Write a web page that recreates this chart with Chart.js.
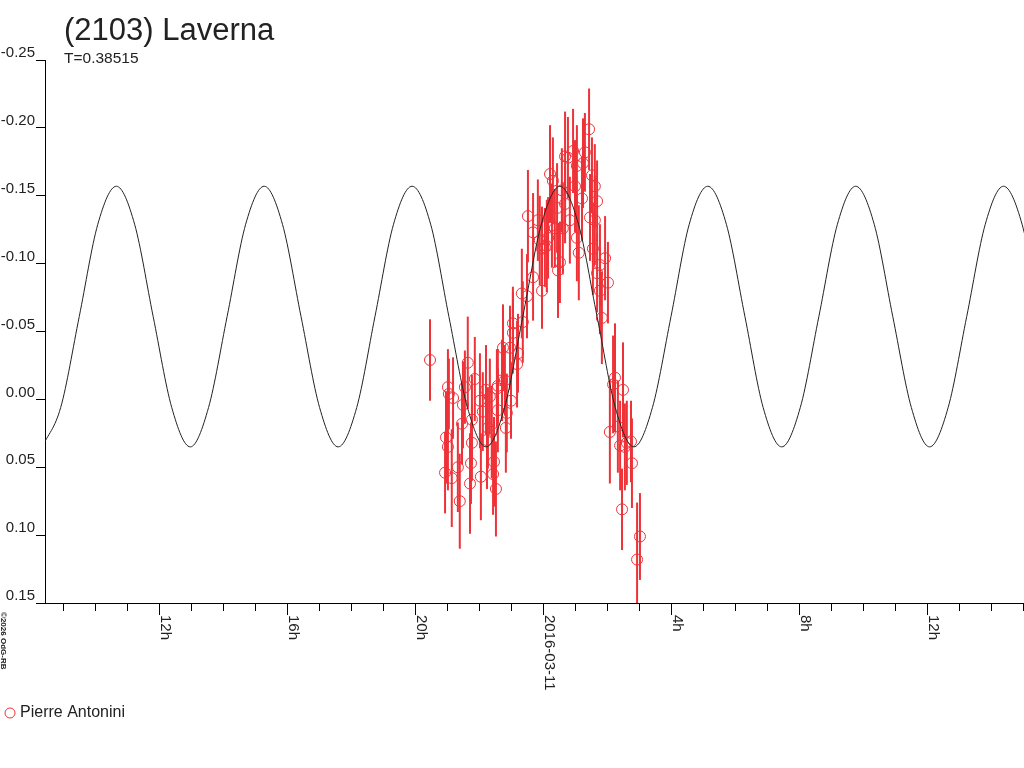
<!DOCTYPE html>
<html lang="en">
<head>
<meta charset="UTF-8">
<title>(2103) Laverna</title>
<script src="https://cdn.jsdelivr.net/npm/chart.js"></script>
<style>
  body { margin: 0; background: #fff; }
  canvas { display: block; }
</style>
</head>
<body>
<canvas id="lightcurve" width="1024" height="768"></canvas>
<script>
// hours relative to 2016-03-11 00:00 UT, magnitudes relative to mean
var obsHours = [-3.56, -3.09, -3.06, -3.00, -3.00, -2.97, -2.88, -2.84, -2.69, -2.63,
  -2.56, -2.53, -2.47, -2.38, -2.31, -2.28, -2.25, -2.25, -2.16, -2.00,
  -1.97, -1.91, -1.81, -1.78, -1.75, -1.69, -1.63, -1.59, -1.56, -1.50,
  -1.47, -1.44, -1.44, -1.31, -1.28, -1.22, -1.19, -1.16, -1.06, -1.03,
  -0.97, -0.97, -0.84, -0.81, -0.69, -0.66, -0.53, -0.50, -0.34, -0.34,
  -0.19, -0.13, -0.06, -0.06, 0.03, 0.09, 0.13, 0.19, 0.25, 0.28,
  0.34, 0.41, 0.44, 0.50, 0.56, 0.59, 0.66, 0.66, 0.75, 0.81,
  0.91, 0.97, 1.03, 1.03, 1.09, 1.19, 1.22, 1.28, 1.41, 1.44,
  1.50, 1.53, 1.59, 1.59, 1.66, 1.66, 1.75, 1.75, 1.81, 1.91,
  2.00, 2.06, 2.16, 2.22, 2.31, 2.38, 2.44, 2.47, 2.53, 2.59,
  2.72, 2.75, 2.91, 3.00];
var obsMag = [-0.029, 0.054, 0.028, 0.035, -0.009, -0.004, 0.058, -0.001, 0.050, 0.075,
  0.018, 0.004, -0.009, -0.027, 0.062, 0.047, 0.015, 0.032, -0.015, 0.001,
  0.057, 0.009, -0.007, 0.030, 0.021, -0.002, 0.024, 0.055, 0.046, 0.066,
  -0.008, 0.008, -0.010, -0.014, -0.038, -0.014, 0.021, 0.010, -0.038, 0.001,
  -0.049, -0.056, -0.026, -0.034, -0.078, -0.057, -0.076, -0.135, -0.123, -0.090,
  -0.132, -0.117, -0.080, -0.111, -0.112, -0.113, -0.119, -0.166, -0.128, -0.161,
  -0.126, -0.141, -0.095, -0.101, -0.154, -0.126, -0.144, -0.179, -0.178, -0.132,
  -0.183, -0.157, -0.172, -0.119, -0.108, -0.148, -0.174, -0.182, -0.199, -0.134,
  -0.165, -0.111, -0.157, -0.132, -0.146, -0.093, -0.080, -0.099, -0.060, -0.104,
  -0.086, 0.024, -0.011, -0.016, 0.020, 0.034, 0.081, -0.007, 0.035, 0.032,
  0.031, 0.047, 0.118, 0.101];
var obsErr = [0.030, 0.030, 0.034, 0.032, 0.028, 0.026, 0.036, 0.030, 0.033, 0.035,
  0.030, 0.032, 0.027, 0.034, 0.037, 0.030, 0.033, 0.028, 0.031, 0.035,
  0.032, 0.029, 0.033, 0.036, 0.030, 0.028, 0.034, 0.030, 0.033, 0.035,
  0.029, 0.031, 0.027, 0.030, 0.032, 0.026, 0.033, 0.029, 0.031, 0.028,
  0.030, 0.027, 0.032, 0.029, 0.033, 0.030, 0.031, 0.034, 0.029, 0.032,
  0.030, 0.033, 0.028, 0.031, 0.029, 0.034, 0.030, 0.036, 0.031, 0.032,
  0.029, 0.033, 0.035, 0.030, 0.031, 0.034, 0.029, 0.033, 0.030, 0.032,
  0.031, 0.034, 0.030, 0.032, 0.035, 0.031, 0.033, 0.029, 0.030, 0.032,
  0.028, 0.034, 0.031, 0.033, 0.030, 0.029, 0.032, 0.030, 0.034, 0.031,
  0.030, 0.038, 0.036, 0.040, 0.034, 0.033, 0.030, 0.035, 0.032, 0.031,
  0.030, 0.033, 0.042, 0.032];

// fitted lightcurve (maxima, minima and points between)
var fitHours = [-15.68, -15.10, -14.52, -13.94, -13.36, -12.79, -12.21, -11.63, -11.05, -10.48,
  -9.90, -9.32, -8.74, -8.17, -7.59, -7.01, -6.43, -5.85, -5.28, -4.70,
  -4.12, -3.54, -2.97, -2.39, -1.81, -1.23, -0.66, -0.08, 0.50, 1.08,
  1.66, 2.23, 2.81, 3.39, 3.97, 4.54, 5.12, 5.70, 6.28, 6.85,
  7.43, 8.01, 8.59, 9.17, 9.74, 10.32, 10.90, 11.48, 12.05, 12.63,
  13.21, 13.79, 14.36, 14.94, 15.52];
var fitMag = [0.035, 0.006, -0.061, -0.129, -0.157, -0.129, -0.061, 0.006, 0.035, 0.006,
  -0.061, -0.129, -0.157, -0.129, -0.061, 0.006, 0.035, 0.006, -0.061, -0.129,
  -0.157, -0.129, -0.061, 0.006, 0.035, 0.006, -0.061, -0.129, -0.157, -0.129,
  -0.061, 0.006, 0.035, 0.006, -0.061, -0.129, -0.157, -0.129, -0.061, 0.006,
  0.035, 0.006, -0.061, -0.129, -0.157, -0.129, -0.061, 0.006, 0.035, 0.006,
  -0.061, -0.129, -0.157, -0.129, -0.061];

var majorHours = [-12, -8, -4, 0, 4, 8, 12];
var majorLabels = ['12h', '16h', '20h', '2016-03-11', '4h', '8h', '12h'];

var RED = 'rgb(238,50,56)';
var TEXT = '#222';
var FONT = '"Liberation Sans", Arial, sans-serif';

Chart.defaults.font.family = FONT;

// vertical error bars, drawn under the circles
var errorBars = {
    id: 'errorBars',
    beforeDatasetsDraw: function (chart) {
        var ctx = chart.ctx, xs = chart.scales.x, ys = chart.scales.y, a = chart.chartArea;
        ctx.save();
        ctx.beginPath();
        ctx.rect(a.left, a.top, a.right - a.left, a.bottom - a.top);
        ctx.clip();
        ctx.strokeStyle = RED;
        ctx.lineWidth = 2;
        obsHours.forEach(function (h, i) {
            var px = xs.getPixelForValue(h);
            ctx.beginPath();
            ctx.moveTo(px, ys.getPixelForValue(obsMag[i] - obsErr[i]));
            ctx.lineTo(px, ys.getPixelForValue(obsMag[i] + obsErr[i]));
            ctx.stroke();
        });
        ctx.restore();
    }
};

// hour ticks hanging below the axis, rotated labels, titles and legend
var decorations = {
    id: 'decorations',
    afterDraw: function (chart) {
        var ctx = chart.ctx, xs = chart.scales.x, a = chart.chartArea;
        ctx.save();
        ctx.strokeStyle = '#000';
        ctx.lineWidth = 1;
        ctx.beginPath();
        ctx.moveTo(36, a.bottom + 0.5);
        ctx.lineTo(a.left, a.bottom + 0.5);
        ctx.stroke();
        xs.ticks.forEach(function (t) {
            var px = Math.round(xs.getPixelForValue(t.value)) - 0.5;
            var len = majorHours.indexOf(t.value) >= 0 ? 12 : 8;
            ctx.beginPath();
            ctx.moveTo(px, a.bottom);
            ctx.lineTo(px, a.bottom + len);
            ctx.stroke();
        });

        ctx.fillStyle = TEXT;
        ctx.font = '15px ' + FONT;
        ctx.textAlign = 'left';
        ctx.textBaseline = 'alphabetic';
        majorHours.forEach(function (h, i) {
            ctx.save();
            ctx.translate(xs.getPixelForValue(h) + 1, a.bottom + 12);
            ctx.rotate(Math.PI / 2);
            ctx.fillText(majorLabels[i], 0, 0);
            ctx.restore();
        });

        ctx.save();
        ctx.font = 'bold 8px ' + FONT;
        ctx.translate(1, 612);
        ctx.rotate(Math.PI / 2);
        ctx.fillText('\u00a92026 OdG-RB', 0, 0);
        ctx.restore();

        ctx.font = '31px ' + FONT;
        ctx.fillText('(2103) Laverna', 64, 40);
        ctx.font = '15.5px ' + FONT;
        ctx.fillText('T=0.38515', 64, 63);

        ctx.strokeStyle = RED;
        ctx.beginPath();
        ctx.arc(10, 713, 5, 0, Math.PI * 2);
        ctx.stroke();
        ctx.font = '16px ' + FONT;
        ctx.textBaseline = 'middle';
        ctx.fillText('Pierre Antonini', 20, 713);
        ctx.restore();
    }
};

var ctx = document.getElementById('lightcurve').getContext('2d');
var chart = new Chart(ctx, {
    type: 'scatter',
    data: {
        datasets: [{
            label: 'Fit',
            data: fitHours.map(function (h, i) { return { x: h, y: fitMag[i] }; }),
            showLine: true,
            borderColor: '#222',
            borderWidth: 1,
            pointRadius: 0,
            cubicInterpolationMode: 'monotone'
        }, {
            label: 'Pierre Antonini',
            data: obsHours.map(function (h, i) { return { x: h, y: obsMag[i] }; }),
            showLine: false,
            borderColor: RED,
            backgroundColor: 'rgba(0,0,0,0)',
            borderWidth: 1,
            pointRadius: 5.5,
            pointHoverRadius: 5.5
        }]
    },
    options: {
        responsive: false,
        animation: false,
        layout: { autoPadding: false, padding: { top: 60, left: 0, right: 0, bottom: 0 } },
        plugins: {
            legend: { display: false },
            tooltip: { enabled: false }
        },
        scales: {
            x: {
                type: 'linear',
                min: -15.59,
                max: 15,
                afterFit: function (scale) { scale.height = 165; },
                ticks: { display: false, stepSize: 1, autoSkip: false, includeBounds: false },
                grid: { display: false },
                border: { display: true, color: '#000', width: 1 }
            },
            y: {
                type: 'linear',
                reverse: true,
                min: -0.25,
                max: 0.15,
                afterFit: function (scale) { scale.width = 45; },
                ticks: {
                    stepSize: 0.05,
                    padding: 1,
                    labelOffset: -7,
                    color: TEXT,
                    font: { size: 15 },
                    callback: function (v) { return (Math.abs(v) < 1e-9 ? 0 : v).toFixed(2); }
                },
                grid: { drawOnChartArea: false, tickLength: 9, color: '#000' },
                border: { display: true, color: '#000', width: 1 }
            }
        }
    },
    plugins: [errorBars, decorations]
});
</script>
</body>
</html>
